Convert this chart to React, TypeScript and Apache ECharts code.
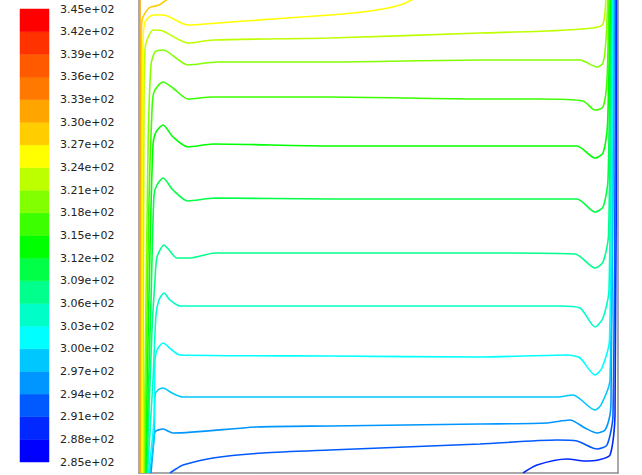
import React, { useEffect, useRef } from "react";
import * as echarts from "echarts";

// Temperature scale (K): 2.85e+02 .. 3.45e+02, step 3
const scaleMin = 285;
const scaleMax = 345;
const scaleStep = 3;

// 20 colour bands, bottom (2.85-2.88) to top (3.42-3.45)
const bandColors = [
  "#0000ff", "#0028ff", "#005aff", "#0096ff", "#00c8ff",
  "#00ffff", "#00ffc8", "#00ff8c", "#00ff46", "#00ff00",
  "#3cff00", "#82ff00", "#beff00", "#ffff00", "#ffcd00",
  "#ffa500", "#ff7800", "#ff5a00", "#ff3200", "#ff0000",
];

// Visible part of the cavity (mm): x 0..479, y 0..473
const domainX = [0, 479];
const domainY = [0, 473];

// Contour lines (x, y in mm)
const c330 = [[1, 0], [1, 480]];
const c327 = [[1.5, 0], [2, 413], [3, 453], [10, 465], [20, 468], [30, 475], [36, 480]];
const c324 = [[3, 0], [3.5, 373], [4, 433], [6, 451], [14, 458], [24, 458], [49, 448], [91, 451], [191, 458], [231, 462], [261, 468], [276, 475], [281, 480]];
const c321 = [[4, 0], [5, 373], [6, 423], [8, 433], [14, 443], [24, 442], [49, 430], [74, 433], [191, 435], [341, 440], [408, 442], [454, 445], [464, 449], [467, 480]];
const c318 = [[5, 0], [9, 323], [12, 408], [16, 421], [24, 423], [49, 408], [78, 411], [191, 411], [341, 413], [441, 413], [458, 406], [464, 410], [467, 433], [469, 480]];
const c315 = [[5.5, 0], [10, 273], [13, 363], [15, 381], [24, 391], [34, 385], [49, 374], [74, 376], [191, 376], [341, 374], [401, 374], [444, 372], [456, 363], [464, 366], [468, 393], [470, 480]];
const c312 = [[6.3, 0], [11, 223], [14, 328], [17, 341], [24, 348], [34, 336], [49, 326], [74, 329], [191, 327], [341, 327], [438, 327], [456, 315], [464, 320], [468.5, 348], [471, 480]];
const c309 = [[7, 0], [12, 173], [15, 278], [18, 288], [24, 295], [34, 283], [49, 272], [76, 275], [191, 274], [341, 274], [438, 274], [456, 261], [464, 266], [469, 293], [471.5, 480]];
const c306 = [[7.8, 0], [13, 143], [16, 193], [18, 216], [25, 228], [30, 223], [38, 215], [51, 215], [76, 220], [191, 220], [341, 220], [436, 219], [456, 205], [464, 211], [469.5, 238], [472, 480]];
const c303 = [[8.5, 0], [14, 93], [17, 158], [20, 173], [25, 180], [31, 173], [41, 167], [191, 167], [341, 167], [421, 167], [441, 165], [456, 146], [464, 155], [470, 183], [472.5, 480]];
const c300 = [[9.5, 0], [15, 53], [16, 113], [18, 123], [24, 130], [33, 123], [41, 118], [191, 117], [341, 116], [428, 118], [441, 115], [456, 98], [463, 105], [470.5, 133], [473.5, 480]];
const c297 = [[10.5, 0], [15, 33], [16, 78], [19, 83], [24, 85], [33, 80], [44, 76], [191, 76], [341, 76], [418, 76], [434, 78], [456, 63], [462, 68], [471, 93], [474.5, 480]];
const c294 = [[12, 0], [14, 23], [16, 41], [24, 44], [34, 40], [118, 46], [191, 47], [341, 49], [408, 50], [431, 53], [446, 45], [458, 40], [466, 43], [471, 58], [472, 73], [475.5, 480]];
const c291 = [[31, 0], [37, 4], [44, 8], [74, 15], [124, 20], [191, 23], [341, 29], [418, 33], [438, 32], [458, 24], [468, 28], [474, 58], [476.5, 480]];
const c288 = [[384, 0], [398, 8], [428, 14], [446, 12], [459, 13], [471, 18], [476, 58], [477.5, 480]];

const contourLevels = [288, 291, 294, 297, 300, 303, 306, 309, 312, 315, 318, 321, 324, 327, 330];
const contourLines = [c288, c291, c294, c297, c300, c303, c306, c309, c312, c315, c318, c321, c324, c327, c330];

const fmt = (v: number) => (v / 100).toFixed(2) + "e+02";

export default function App() {
  const ref = useRef<HTMLDivElement>(null);
  useEffect(() => {
    document.body.style.margin = "0";
    const chart = echarts.init(ref.current!, undefined, { renderer: "svg" });

    const bands = bandColors.map((_, i) => [scaleMin + i * scaleStep, scaleMin + (i + 1) * scaleStep, i]);

    const contourSeries = contourLines.map((pts, i) => {
      const lvl = contourLevels[i];
      const ci = Math.round((lvl - scaleMin) / scaleStep);
      return {
        type: "line",
        xAxisIndex: 1,
        yAxisIndex: 1,
        data: pts,
        showSymbol: false,
        symbol: "none",
        clip: true,
        smooth: 0.25,
        lineStyle: { color: bandColors[ci], width: 1.6 },
        silent: true,
      };
    });

    const border = { show: true, lineStyle: { color: "#8c8c8c", width: 1.5 } };

    chart.setOption({
      animation: false,
      backgroundColor: "#ffffff",
      grid: [
        { left: 20, width: 29, top: 9, bottom: 13 },
        { left: 139, right: 24, top: 0, bottom: 2 },
      ],
      xAxis: [
        { gridIndex: 0, type: "value", min: 0, max: 1, show: false },
        {
          gridIndex: 1,
          type: "value",
          min: domainX[0],
          max: domainX[1],
          axisLine: border,
          axisTick: { show: false },
          axisLabel: { show: false },
          splitLine: { show: false },
        },
      ],
      yAxis: [
        {
          gridIndex: 0,
          type: "value",
          min: scaleMin,
          max: scaleMax,
          interval: scaleStep,
          position: "right",
          axisLine: { show: false },
          axisTick: { show: false },
          splitLine: { show: false },
          axisLabel: {
            formatter: fmt,
            margin: 11,
            fontFamily: "DejaVu Sans",
            fontSize: 11,
            color: "#222",
            padding: [4, 0, 0, 0],
          },
        },
        {
          gridIndex: 1,
          type: "value",
          min: domainY[0],
          max: domainY[1],
          position: "left",
          axisLine: { ...border, onZero: false },
          axisTick: { show: false },
          axisLabel: { show: false },
          splitLine: { show: false },
        },
        {
          gridIndex: 1,
          type: "value",
          min: domainY[0],
          max: domainY[1],
          position: "right",
          axisLine: { ...border, onZero: false },
          axisTick: { show: false },
          axisLabel: { show: false },
          splitLine: { show: false },
        },
      ],
      series: [
        {
          type: "custom",
          xAxisIndex: 0,
          yAxisIndex: 0,
          silent: true,
          data: bands,
          renderItem: (params: any, api: any) => {
            const lo = api.value(0);
            const hi = api.value(1);
            const ci = api.value(2);
            const top = api.coord([0, hi]);
            const bot = api.coord([0, lo]);
            const cs = params.coordSys;
            return {
              type: "rect",
              shape: { x: cs.x, y: top[1], width: cs.width, height: bot[1] - top[1] },
              style: { fill: bandColors[ci], stroke: bandColors[ci], lineWidth: 0.5 },
            };
          },
        },
        ...contourSeries,
      ],
    });
    return () => chart.dispose();
  }, []);
  return <div ref={ref} style={{ width: 642, height: 475 }} />;
}
